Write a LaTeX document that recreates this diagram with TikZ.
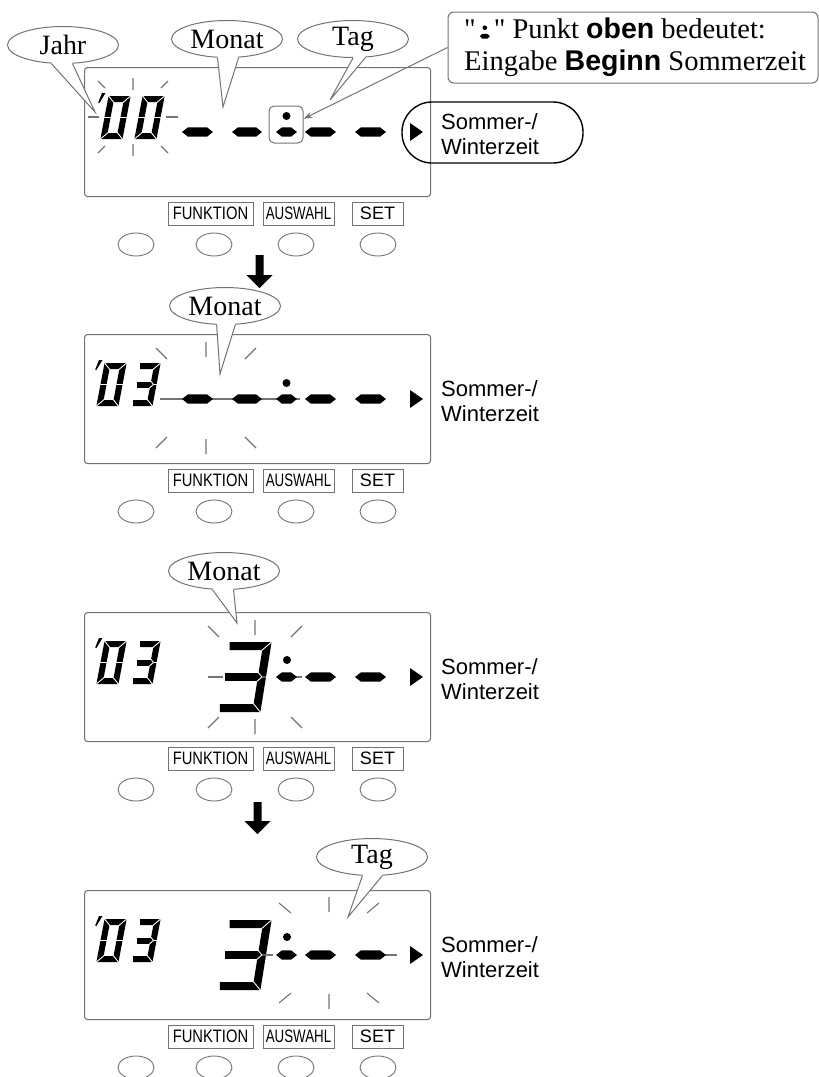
\documentclass[tikz,border=0pt]{standalone}
\usepackage{fontspec}
\setmainfont{Liberation Serif}
\setsansfont{Liberation Sans}
\newfontfamily\rawserif{Liberation Serif}[Ligatures=TeXOff]
\usetikzlibrary{shapes.geometric,arrows.meta}
\definecolor{lgray}{gray}{0.45}

\newcommand\segth{3}
\newcommand\segpt{3}
\newcommand\segw{6pt}
\newcommand\hseg[3]{\fill ({#1},{#3}) -- ({#1+\segpt},{#3-\segth}) -- ({#2-\segpt},{#3-\segth}) -- ({#2},{#3}) -- ({#2-\segpt},{#3+\segth}) -- ({#1+\segpt},{#3+\segth}) -- cycle;}
\newcommand\digw{16}
\newcommand\digh{37}
\newcommand\digs{0.19}
\newcommand\zerodigit[2]{\begin{scope}[shift={(#1,#2)},xslant=\digs]
  \draw[line width=\segw] (0,0) rectangle (\digw,-\digh);
  \draw[sep] ({-\segth-0.6},{\segth+0.6}) -- ({\segth+0.6},{-\segth-0.6})
    ({\digw+\segth+0.6},{\segth+0.6}) -- ({\digw-\segth-0.6},{-\segth-0.6})
    ({-\segth-0.6},{-\digh-\segth-0.6}) -- ({\segth+0.6},{-\digh+\segth+0.6})
    ({\digw+\segth+0.6},{-\digh-\segth-0.6}) -- ({\digw-\segth-0.6},{-\digh+\segth+0.6})
    ({-\segth-0.6},{-\digh/2}) -- ({\segth+0.6},{-\digh/2})
    ({\digw-\segth-0.6},{-\digh/2}) -- ({\digw+\segth+0.6},{-\digh/2});
  \end{scope}}
\newcommand\threedigit[2]{\begin{scope}[shift={(#1,#2)},xslant=\digs]
  \draw[line width=\segw] ({-0.3*\segth},{-\digh}) -- (\digw,-\digh) -- (\digw,0) -- ({-0.3*\segth},0);
  \draw[line width=\segw] ({-0.3*\segth},{-\digh/2}) -- (\digw,{-\digh/2});
  \draw[sep] ({\digw+\segth+0.6},{\segth+0.6}) -- ({\digw-\segth-0.6},{-\segth-0.6})
    ({\digw+\segth+0.6},{-\digh-\segth-0.6}) -- ({\digw-\segth-0.6},{-\digh+\segth+0.6})
    ({\digw-\segth-0.6},{-\digh/2-\segth-0.6}) -- (\digw,{-\digh/2}) -- ({\digw-\segth-0.6},{-\digh/2+\segth+0.6})
    (\digw,{-\digh/2}) -- ({\digw+\segth+0.6},{-\digh/2});
  \end{scope}}
\newcommand\bigthree{\begin{scope}\renewcommand\digw{36}\renewcommand\digh{62}\renewcommand\segth{4}\renewcommand\segw{8pt}\renewcommand\digs{0.16}\threedigit{221}{96}\end{scope}}
\newcommand\apos[1]{\fill ({#1+4},26) -- ({#1+7.5},26) -- ({#1+1.4},36) -- ({#1+0.2},35.5) -- cycle;}
\newcommand\burstrays[6]{\draw[ray] (0,-#1) -- (0,-#2) (0,#1) -- (0,#2)
  (#3,#4) -- (#5,#6) (-#3,#4) -- (-#5,#6) (#3,-#4) -- (#5,-#6) (-#3,-#4) -- (-#5,-#6);}
\newcommand\dashseg[1]{\begin{scope}\renewcommand\segth{4.7}\renewcommand\segpt{6}#1\end{scope}}
\newcommand\dotdash{\tikz[baseline=0pt,x=1pt,y=1pt]{\fill (5,10.5) circle (2.3); \fill (0,2) -- (2.5,4.4) -- (7.5,4.4) -- (10,2) -- (7.5,-0.4) -- (2.5,-0.4) -- cycle;}}
\newcommand\tail[4]{\coordinate (#1tip) at (#4);
  \fill[white] (#1.center) -- (#1.#2) -- (#1tip) -- (#1.#3) -- cycle;
  \draw[bubbleline] (#1.#2) -- (#1tip) -- (#1.#3);}

\tikzset{
  sep/.style={draw=white, line width=0.9pt},
  lcd/.style={draw=lgray, line width=1.1pt, rounded corners=3pt, inner sep=0pt},
  ray/.style={draw=lgray, line width=1.1pt},
  keylabel/.style={draw=lgray, line width=0.9pt, inner sep=0pt, minimum height=23pt, font=\sffamily\fontsize{18}{18}\selectfont},
  keyoval/.style={ellipse, draw=lgray, line width=0.9pt, minimum width=36pt, minimum height=23pt, inner sep=0pt},
  bubble/.style={ellipse, draw=lgray, fill=white, line width=1pt, minimum width=111pt, minimum height=37pt, inner sep=0pt},
  bubbleline/.style={draw=lgray, line width=1pt},
  bubbletext/.style={font=\fontsize{28}{30}\selectfont, inner sep=0pt},
  mode/.style={font=\sffamily\fontsize{22}{25}\selectfont, align=left, anchor=west, inner sep=0pt},
}

\newcommand\panelframe[2]{%
\begin{scope}[shift={(0,#1)}]
  \node[lcd, minimum width=346pt, minimum height=129pt, anchor=north west] (lcd#2) at (84,0) {};
  \node[keylabel, minimum width=85pt] (fk#2) at (210.5,146.5) {\scalebox{0.82}[1]{FUNKTION}};
  \node[keylabel, minimum width=71pt] (aw#2) at (298.5,146.5) {\scalebox{0.74}[1]{AUSWAHL}};
  \node[keylabel, minimum width=51pt] (st#2) at (377.5,146.5) {SET};
  \node[keyoval] (ka#2) at (136,177.5) {};
  \node[keyoval] (kb#2) at (214,177.5) {};
  \node[keyoval] (kc#2) at (296,177.5) {};
  \node[keyoval] (kd#2) at (378,177.5) {};
  \fill (410,56) -- (423,65) -- (410,74) -- cycle;
  \node[mode] (mode#2) at (441,67) {Sommer-/\\Winterzeit};
\end{scope}}

\begin{document}
\begin{tikzpicture}[x=1pt,y=-1pt]
\useasboundingbox (0,0) rectangle (819,1077);

% ---------- Panel 1 ----------
\panelframe{67}{a}
\begin{scope}[shift={(0,67)}]
  \begin{scope}[shift={(133,50)}]\burstrays{27}{39}{28}{29}{35}{36}\end{scope}
  \draw[ray] (88,50) -- (99,50) (166,50) -- (178,50);
  \zerodigit{104}{69}\zerodigit{138}{69}
  \apos{98}
  \dashseg{\hseg{182}{213}{65}\hseg{232}{262}{65}\hseg{276}{297}{65}\hseg{305}{336}{65}\hseg{355}{386}{65}}
  \fill (286.5,49) circle (4);
  \node[draw=lgray, line width=1pt, rounded corners=5pt, minimum width=34pt, minimum height=37pt, inner sep=0pt] (dotbox) at (286,57.5) {};
  \draw[line width=1.4pt, rounded corners=30pt] (402,35) rectangle (583,96);
\end{scope}

% ---------- Panel 2 ----------
\panelframe{334}{b}
\begin{scope}[shift={(0,334)}]
  \begin{scope}[shift={(206,64)}]\burstrays{41}{56}{39}{39}{50}{50}\end{scope}
  \draw[ray] (160,65) -- (300,65);
  \zerodigit{100}{69}\threedigit{134}{69}
  \apos{95}
  \dashseg{\hseg{182}{213}{65}\hseg{232}{262}{65}\hseg{276}{297}{65}\hseg{305}{336}{65}\hseg{355}{386}{65}}
  \fill (286.5,49) circle (4);
\end{scope}

% ---------- Panel 3 ----------
\panelframe{612}{c}
\begin{scope}[shift={(0,612)}]
  \begin{scope}[shift={(255,65)}]\burstrays{42}{57}{36}{40}{47}{51}\end{scope}
  \draw[ray] (208,65) -- (223,65) (287,65) -- (302,65);
  \zerodigit{100}{69}\threedigit{134}{69}
  \apos{95}
  \bigthree
  \dashseg{\hseg{276}{297}{65}\hseg{305}{336}{65}\hseg{355}{386}{65}}
  \fill (287,48) circle (4);
\end{scope}

% ---------- Panel 4 ----------
\panelframe{890}{d}
\begin{scope}[shift={(0,890)}]
  \begin{scope}[shift={(329,63)}]\burstrays{41}{56}{38}{40}{50}{50}\end{scope}
  \draw[ray] (261,65) -- (273,65) (385,65) -- (397,65);
  \zerodigit{100}{69}\threedigit{134}{69}
  \apos{95}
  \bigthree
  \dashseg{\hseg{276}{297}{65}\hseg{305}{336}{65}\hseg{355}{386}{65}}
  \fill (287,47) circle (4);
\end{scope}

% ---------- step arrows ----------
\fill (255.5,255) -- (263.5,255) -- (263.5,275) -- (272.5,275) -- (259.5,288) -- (246.5,275) -- (255.5,275) -- cycle;
\fill (253.5,802) -- (261.5,802) -- (261.5,821) -- (270.5,821) -- (257.5,834) -- (244.5,821) -- (253.5,821) -- cycle;

% ---------- bubbles ----------
\node[bubble] (jahr) at (63,45) {};
\tail{jahr}{238}{297}{95,112}
\node[bubbletext] (jahrtxt) at (jahr) {Jahr};

\node[bubble] (monata) at (227,39) {};
\tail{monata}{243}{302}{223,107}
\node[bubbletext] (monatatxt) at (monata) {Monat};

\node[bubble] (taga) at (353,39) {};
\tail{taga}{270}{304}{330,100}
\node[bubbletext] (tagatxt) at (taga) {Tag};

\node[bubble] (monatb) at (225,306) {};
\tail{monatb}{246}{299}{220,374}
\node[bubbletext] (monatbtxt) at (monatb) {Monat};

\node[bubble] (monatc) at (224,571) {};
\tail{monatc}{238}{297}{237,623}
\node[bubbletext] (monatctxt) at (monatc) {Monat};

\node[bubble] (tagd) at (372,857) {};
\tail{tagd}{243}{299}{348,917}
\node[bubbletext] (tagdtxt) at (tagd) {Tag};

% ---------- callout ----------
\node[draw=lgray, fill=white, line width=1pt, rounded corners=6pt, minimum width=370pt, minimum height=71pt, inner sep=0pt] (callout) at (633,47.5) {};
\node[anchor=west, align=left, inner sep=0pt, font=\fontsize{28.5}{32}\selectfont] (callouttxt) at (464,47) {{\rawserif"}\hspace{4pt}\dotdash\hspace{4pt}{\rawserif"} Punkt \textsf{\bfseries oben} bedeutet:\\Eingabe \textsf{\bfseries Beginn} Sommerzeit};
\draw[lgray, line width=1pt, -{Stealth[length=9pt,width=6pt]}] (callout.west) -- (dotbox.18);
\end{tikzpicture}
\end{document}
